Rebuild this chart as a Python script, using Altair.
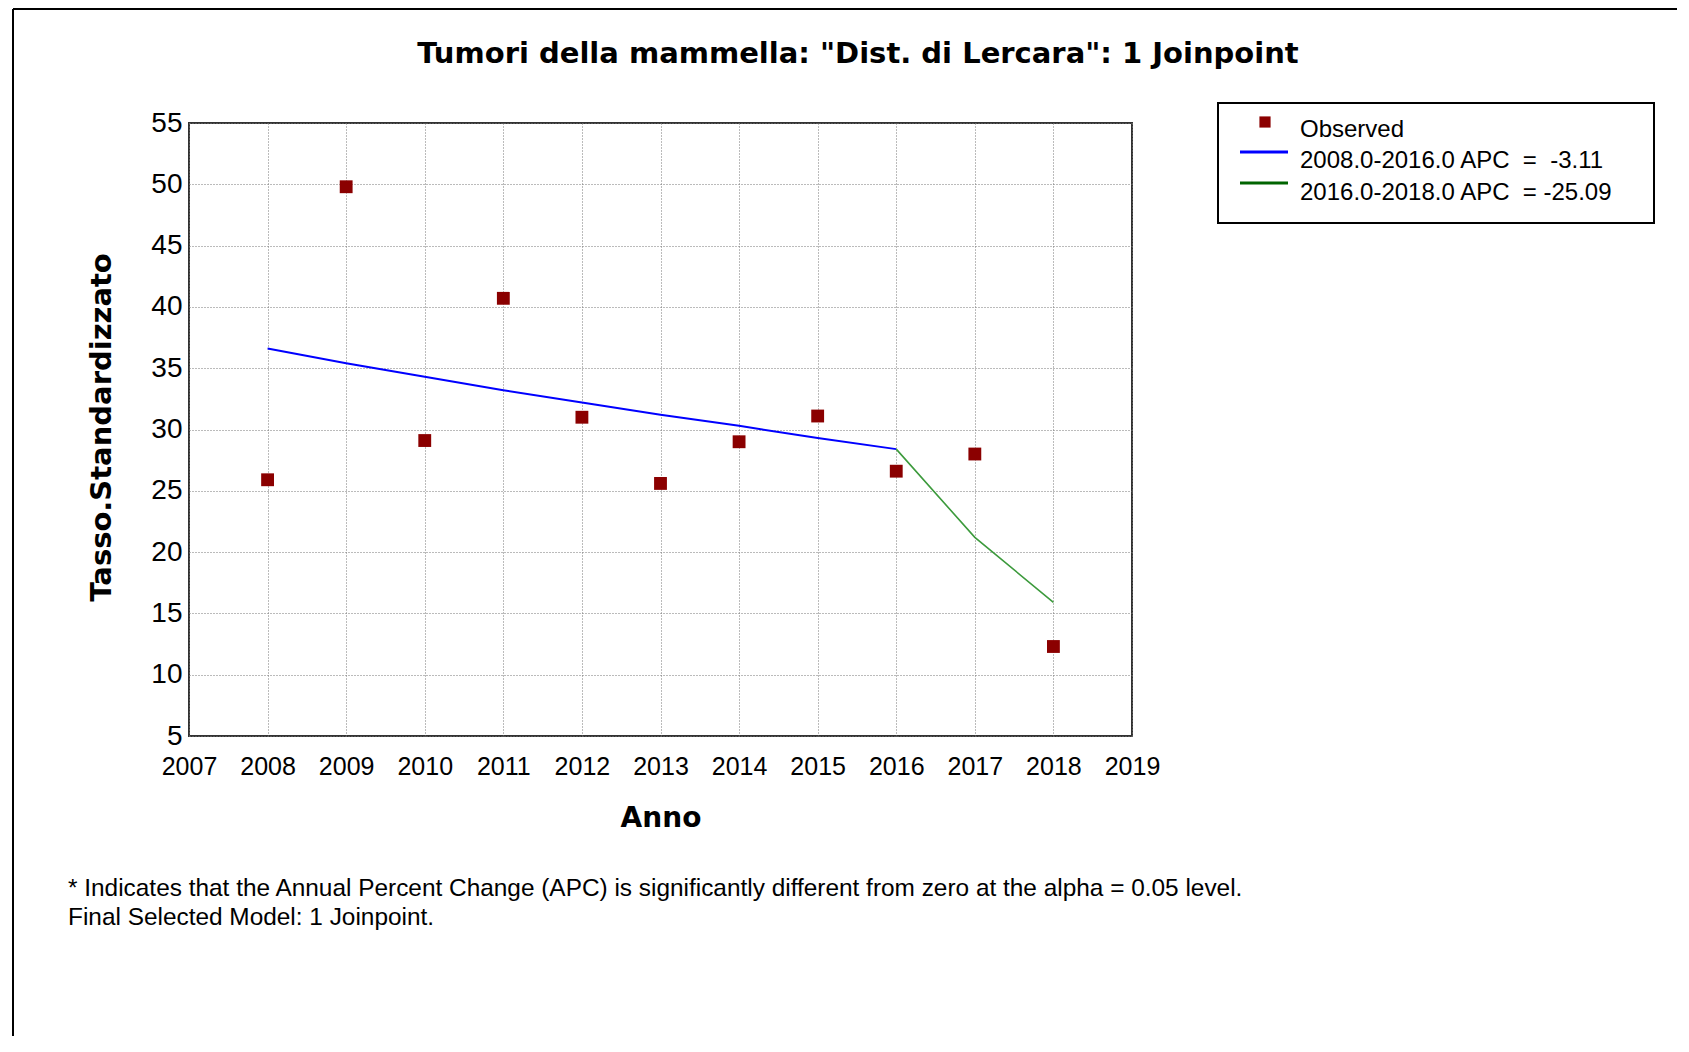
import altair as alt
import pandas as pd

# ---------------- data ----------------
years = [2008, 2009, 2010, 2011, 2012, 2013, 2014, 2015, 2016, 2017, 2018]
observed = [25.9, 49.8, 29.1, 40.7, 31.0, 25.6, 29.0, 31.1, 26.6, 28.0, 12.3]

seg1_years = [2008, 2009, 2010, 2011, 2012, 2013, 2014, 2015, 2016]
seg1_fit = [36.6, 35.4, 34.3, 33.2, 32.2, 31.2, 30.3, 29.3, 28.4]

seg2_years = [2016, 2017, 2018]
seg2_fit = [28.4, 21.2, 15.9]

x_ticks = list(range(2007, 2020))
y_ticks = list(range(5, 60, 5))

title_text = 'Tumori della mammella: "Dist. di Lercara": 1 Joinpoint'
x_title = "Anno"
y_title = "Tasso.Standardizzato"
legend_labels = [
    "Observed",
    "2008.0-2016.0 APC\u00a0\u00a0=\u00a0\u00a0-3.11",
    "2016.0-2018.0 APC\u00a0\u00a0=\u00a0-25.09",
]
footnotes = [
    "* Indicates that the Annual Percent Change (APC) is significantly different from zero at the alpha = 0.05 level.",
    "Final Selected Model: 1 Joinpoint.",
]

RED = "#8B0000"
BLUE = "#0000FF"
GREEN_PLOT = "#3C9A3C"
GREEN_LEG = "#006400"

W, H = 943, 613

obs_df = pd.DataFrame({"Anno": years, "Tasso": observed})
s1_df = pd.DataFrame({"Anno": seg1_years, "Tasso": seg1_fit})
s2_df = pd.DataFrame({"Anno": seg2_years, "Tasso": seg2_fit})

x_enc = alt.X(
    "Anno:Q",
    scale=alt.Scale(domain=[2007, 2019], nice=False, zero=False),
    axis=alt.Axis(
        values=x_ticks, format="d", grid=True, gridDash=[1, 2], gridColor="#777777",
        gridWidth=1, domain=False, ticks=False, labelFont="Liberation Sans",
        labelFontSize=25, labelColor="#000000", labelPadding=18, labelFlush=False,
        labelOverlap=False, title=x_title, titleFont="DejaVu Sans", titleFontSize=28,
        titleFontWeight="bold", titleColor="#000000", titleX=W / 2, titleY=90,
        titleBaseline="alphabetic", titleAlign="center",
    ),
)
y_enc = alt.Y(
    "Tasso:Q",
    scale=alt.Scale(domain=[5, 55], nice=False, zero=False),
    axis=alt.Axis(
        values=y_ticks, grid=True, gridDash=[1, 2], gridColor="#777777", gridWidth=1,
        domain=False, ticks=False, labelFont="Liberation Sans", labelFontSize=28,
        labelColor="#000000", labelPadding=7, labelFlush=False, labelOverlap=False,
        title=y_title, titleFont="DejaVu Sans", titleFontSize=29, titleFontWeight="bold",
        titleColor="#000000", titleAngle=-90, titleX=-79, titleY=304,
        titleBaseline="alphabetic", titleAlign="center",
    ),
)

line1 = alt.Chart(s1_df).mark_line(color=BLUE, strokeWidth=2).encode(x=x_enc, y=y_enc)
line2 = alt.Chart(s2_df).mark_line(color=GREEN_PLOT, strokeWidth=1.6).encode(x="Anno:Q", y="Tasso:Q")
pts = alt.Chart(obs_df).mark_square(color=RED, size=165, opacity=1).encode(x="Anno:Q", y="Tasso:Q")

one = pd.DataFrame({"k": [0]})


def text_at(txt, x, y, size, font, weight="normal", align="left"):
    return alt.Chart(pd.DataFrame({"t": [txt]})).mark_text(
        font=font, fontSize=size, fontWeight=weight, align=align,
        baseline="alphabetic", color="#000000",
    ).encode(x=alt.value(x), y=alt.value(y), text="t:N")


title = text_at(title_text, 669, -60, 29, "DejaVu Sans", "bold", "center")

foot = [text_at(footnotes[0], -121, 773, 24.4, "Liberation Sans"),
        text_at(footnotes[1], -121, 802, 24.4, "Liberation Sans")]

# outer frame lines
frame_top = alt.Chart(one).mark_rule(color="#000000", strokeWidth=2).encode(
    x=alt.value(-176), x2=alt.value(1520), y=alt.value(-114))
frame_left = alt.Chart(one).mark_rule(color="#000000", strokeWidth=2).encode(
    x=alt.value(-176), y=alt.value(-114), y2=alt.value(940))

# legend
leg_box = alt.Chart(one).mark_rect(fill="#FFFFFF", stroke="#000000", strokeWidth=2).encode(
    x=alt.value(1029), x2=alt.value(1465), y=alt.value(-20), y2=alt.value(100))
leg_sq = alt.Chart(one).mark_square(color=RED, size=125, opacity=1).encode(
    x=alt.value(1076), y=alt.value(-1))
leg_blue = alt.Chart(one).mark_rule(color=BLUE, strokeWidth=3).encode(
    x=alt.value(1051), x2=alt.value(1099), y=alt.value(29))
leg_green = alt.Chart(one).mark_rule(color=GREEN_LEG, strokeWidth=3).encode(
    x=alt.value(1051), x2=alt.value(1099), y=alt.value(60))
leg_txt = [
    text_at(legend_labels[0], 1111, 14, 24, "Liberation Sans"),
    text_at(legend_labels[1], 1111, 45, 24, "Liberation Sans"),
    text_at(legend_labels[2], 1111, 77, 24, "Liberation Sans"),
]

chart = alt.layer(
    line1, line2, pts, title, *foot, frame_top, frame_left,
    leg_box, leg_sq, leg_blue, leg_green, *leg_txt,
).properties(
    width=W, height=H,
    autosize=alt.AutoSizeParams(type="none"),
    padding={"left": 181, "top": 115, "right": 545, "bottom": 300},
    background="#FFFFFF",
).configure_view(
    stroke="#333333", strokeWidth=2,
)

chart.save("out.html", embed_options={"renderer": "svg", "actions": False})
